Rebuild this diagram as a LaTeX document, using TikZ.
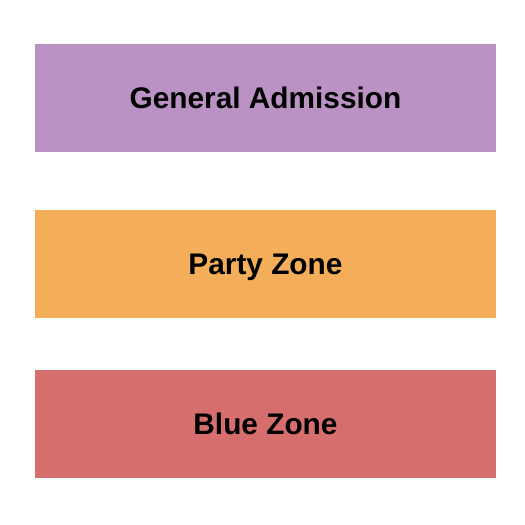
\documentclass[tikz,border=0pt]{standalone}
\usepackage{fontspec}
\setmainfont{Liberation Sans}
\usepackage{tikz}
\usetikzlibrary{positioning}
\definecolor{gacolor}{RGB}{187,146,196}
\definecolor{partycolor}{RGB}{244,174,90}
\definecolor{bluezonecolor}{RGB}{215,110,110}
\tikzstyle{zone} = [rectangle, minimum height=108pt, minimum width=461pt, inner sep=0pt,
    text height=21.3pt, text depth=0pt,
    font=\fontsize{29.8}{34}\selectfont\bfseries, text=black]

\begin{document}
\begin{tikzpicture}[x=1pt,y=-1pt]
\useasboundingbox (0,0) rectangle (525,525);
%% Zones %%
\node [zone, fill=gacolor] (GeneralAdmission) at (265.5,98) {General Admission};
\node [zone, fill=partycolor] (PartyZone) at (265.5,264) {Party Zone};
\node [zone, fill=bluezonecolor] (BlueZone) at (265.5,423.5) {Blue Zone};
\end{tikzpicture}
\end{document}
